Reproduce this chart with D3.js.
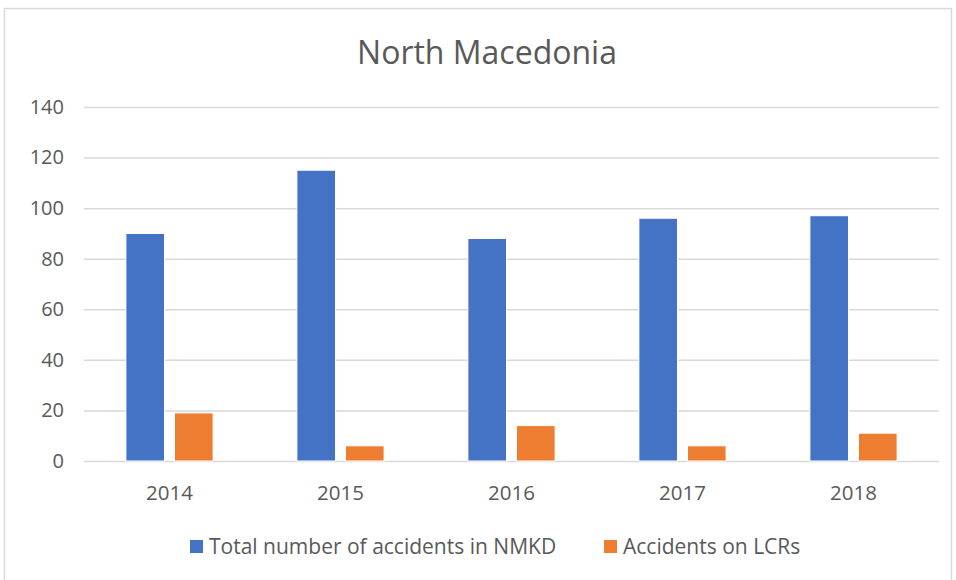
<!DOCTYPE html>
<html>
<head>
<meta charset="utf-8">
<script src="https://cdn.jsdelivr.net/npm/d3@7"></script>
<style>
  body { margin: 0; background: #fff; }
  text { font-family: "Open Sans", "Liberation Sans", sans-serif; fill: #595959; }
</style>
</head>
<body>
<div id="chart"></div>
<script>
var years = ['2014', '2015', '2016', '2017', '2018'];
var seriesNames = ['Total number of accidents in NMKD', 'Accidents on LCRs'];
var totalNMKD = [90, 115, 88, 96, 97];
var lcrAccidents = [19, 6, 14, 6, 11];
var yTicks = [0, 20, 40, 60, 80, 100, 120, 140];
var colors = ['#4472C4', '#ED7D31'];

var width = 956, height = 580;
var plotLeft = 84, plotRight = 939, plotTop = 107, plotBottom = 461;

var svg = d3.select('#chart').append('svg').attr('width', width).attr('height', height);

// chart frame
svg.append('rect')
    .attr('x', 4.5).attr('y', 8.5)
    .attr('width', 947).attr('height', 590)
    .attr('fill', 'none').attr('stroke', '#d9d9d9').attr('stroke-width', 1.5);

svg.append('text')
    .attr('x', 487).attr('y', 64)
    .attr('text-anchor', 'middle')
    .style('font-size', '32px')
    .text('North Macedonia');

var y = d3.scaleLinear().domain([0, 140]).range([plotBottom, plotTop]);
var x0 = d3.scaleBand().domain(years).range([plotLeft, plotRight]).paddingInner(0.49).paddingOuter(0.245);
var x1 = d3.scaleBand().domain([0, 1]).range([0, x0.bandwidth()]).paddingInner(0.206);

// gridlines + y labels
var yAxis = d3.axisLeft(y).tickValues(yTicks).tickSize(0).tickPadding(20);
var gy = svg.append('g').attr('transform', 'translate(' + plotLeft + ',0)').call(yAxis);
gy.select('.domain').remove();
gy.selectAll('.tick line')
    .attr('x1', 0).attr('x2', plotRight - plotLeft)
    .attr('stroke', '#d9d9d9').attr('stroke-width', 1.5);
gy.selectAll('text').style('font-size', '20px').attr('fill', '#595959').attr('x', -20);

// x labels
var xAxis = d3.axisBottom(x0).tickSize(0).tickPadding(24);
var gx = svg.append('g').attr('transform', 'translate(0,' + plotBottom + ')').call(xAxis);
gx.select('.domain').remove();
gx.selectAll('text').style('font-size', '20.5px').attr('fill', '#595959');

var rows = years.map(function(yr, i){
    return { year: yr, values: [totalNMKD[i], lcrAccidents[i]] };
});

var groups = svg.selectAll('g.year').data(rows).enter().append('g')
    .attr('class', 'year')
    .attr('transform', function(d){ return 'translate(' + x0(d.year) + ',0)'; });

groups.selectAll('rect').data(function(d){ return d.values; }).enter().append('rect')
    .attr('x', function(d, i){ return x1(i); })
    .attr('y', function(d){ return y(d); })
    .attr('width', x1.bandwidth())
    .attr('height', function(d){ return plotBottom - y(d); })
    .attr('fill', function(d, i){ return colors[i]; })
    .attr('stroke', '#fff').attr('stroke-width', 1);

// legend
var legendX = [190, 604];
var legend = svg.selectAll('g.legend').data(seriesNames).enter().append('g')
    .attr('class', 'legend')
    .attr('transform', function(d, i){ return 'translate(' + legendX[i] + ',547)'; });
legend.append('rect')
    .attr('x', 0).attr('y', -7).attr('width', 13).attr('height', 13)
    .attr('fill', function(d, i){ return colors[i]; });
legend.append('text')
    .attr('x', 19).attr('y', 7)
    .style('font-size', '21px')
    .text(function(d){ return d; });
</script>
</body>
</html>
